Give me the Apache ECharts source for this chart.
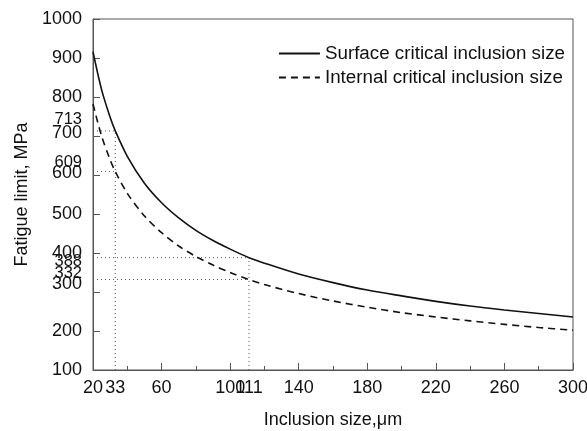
<!DOCTYPE html>
<html>
<head>
<meta charset="utf-8">
<script src="https://cdn.jsdelivr.net/npm/echarts@6/dist/echarts.min.js"></script>
<style>
  html, body { margin: 0; padding: 0; background: #fff; }
  #chart { width: 587px; height: 431px; }
</style>
</head>
<body>
<div id="chart"></div>
<script>
// Inclusion size (μm)
var sizes = [20, 25, 30, 33, 40, 50, 60, 70, 80, 90, 100, 111, 120, 140, 160, 180, 200, 220, 240, 260, 280, 300];
// Fatigue limit (MPa), surface critical inclusion size
var surface = [916, 819, 748, 713, 648, 579, 529, 490, 458, 432, 410, 388, 374, 346, 324, 305, 290, 276, 264, 254, 245, 236];
// Fatigue limit (MPa), internal critical inclusion size
var internal = [782, 700, 639, 609, 553, 495, 452, 418, 391, 369, 350, 332, 319, 296, 277, 261, 247, 236, 226, 217, 209, 202];

// Marked reference values
var markSizes = [33, 111];
var markSurface = [713, 388];
var markInternal = [609, 332];

// Tick labels
var xLabels = [20, 33, 60, 100, 111, 140, 180, 220, 260, 300];
var xMajorTicks = [20, 60, 100, 140, 180, 220, 260, 300];
var xMinorTicks = [40, 80, 120, 160, 200, 240, 280];
var yTicks = [100, 200, 300, 400, 500, 600, 700, 800, 900, 1000];
var yLabels = [100, 200, 300, 332, 388, 400, 500, 600, 609, 700, 713, 800, 900, 1000];

var xMin = 20, xMax = 300, yMin = 100, yMax = 1000;

function pairs(xs, ys) { return xs.map(function (x, i) { return [x, ys[i]]; }); }

var font = 'Liberation Sans, Arial, sans-serif';
var ink = '#111';
var frame = '#555';

// label nudges (pixels up) for the crowded y labels, as in the original
var nudge = { 300: 8, 332: 6, 388: -4, 400: 0, 600: 2, 609: 9, 700: 3, 713: 11 };
var small = { 332: 1, 388: 1, 609: 1, 713: 1 };
var rich = {};
yLabels.forEach(function (v) {
  var d = nudge[v] || 0;
  rich['v' + v] = {
    fontFamily: font, fontSize: small[v] ? 16.5 : 18, color: ink,
    padding: d >= 0 ? [0, 0, 2 * d, 0] : [-2 * d, 0, 0, 0]
  };
});

var series = [
  {
    name: 'Surface critical inclusion size', type: 'line', symbol: 'none', z: 5,
    smooth: 0.3,
    data: pairs(sizes, surface),
    lineStyle: { color: ink, width: 1.6, type: 'solid' },
    itemStyle: { color: ink }
  },
  {
    name: 'Internal critical inclusion size', type: 'line', symbol: 'none', z: 5,
    smooth: 0.3,
    data: pairs(sizes, internal),
    lineStyle: { color: ink, width: 1.6, type: [7, 5] },
    itemStyle: { color: ink }
  }
];

var dotted = { color: '#555', width: 1, type: [1, 3] };
markSizes.forEach(function (s, i) {
  series.push({ type: 'line', symbol: 'none', silent: true, z: 2, lineStyle: dotted,
    data: [[xMin, markSurface[i]], [s, markSurface[i]]] });
  series.push({ type: 'line', symbol: 'none', silent: true, z: 2, lineStyle: dotted,
    data: [[xMin, markInternal[i]], [s, markInternal[i]]] });
  series.push({ type: 'line', symbol: 'none', silent: true, z: 2, lineStyle: dotted,
    data: [[s, yMin], [s, markSurface[i]]] });
});

var chart = echarts.init(document.getElementById('chart'), null, { renderer: 'canvas' });
chart.setOption({
  animation: false,
  backgroundColor: '#fff',
  grid: { left: 93, right: 14, top: 19, bottom: 61, show: true, borderColor: frame, borderWidth: 1,
    containLabel: false, outerBoundsMode: 'none' },
  legend: {
    data: ['Surface critical inclusion size', 'Internal critical inclusion size'],
    orient: 'vertical', right: 17, top: 39, itemGap: 5,
    itemWidth: 41, itemHeight: 14,
    itemStyle: { opacity: 0 },
    textStyle: { fontFamily: font, fontSize: 18.8, color: ink }
  },
  xAxis: [
    {
      type: 'value', min: xMin, max: xMax,
      name: 'Inclusion size,μm', nameLocation: 'middle', nameGap: 41,
      nameTextStyle: { fontFamily: font, fontSize: 18, color: ink },
      axisLine: { show: true, lineStyle: { color: frame, width: 1 } },
      axisTick: { show: true, inside: true, length: 7, customValues: xMajorTicks, lineStyle: { color: frame } },
      axisLabel: { customValues: xLabels, margin: 9, fontFamily: font, fontSize: 18, color: ink,
        formatter: function (v) { return String(v); } },
      splitLine: { show: false }
    },
    {
      type: 'value', min: xMin, max: xMax, position: 'bottom',
      axisLine: { show: false },
      axisTick: { show: true, inside: true, length: 4, customValues: xMinorTicks, lineStyle: { color: frame } },
      axisLabel: { show: false },
      splitLine: { show: false }
    }
  ],
  yAxis: {
    type: 'value', min: yMin, max: yMax,
    name: 'Fatigue limit, MPa', nameLocation: 'middle', nameGap: 62, nameRotate: 90,
    nameTextStyle: { fontFamily: font, fontSize: 18, color: ink },
    axisLine: { show: true, lineStyle: { color: frame, width: 1 } },
    axisTick: { show: true, inside: true, length: 7, customValues: yTicks, lineStyle: { color: frame } },
    axisLabel: { customValues: yLabels, margin: 11, rich: rich,
      formatter: function (v) { return '{v' + v + '|' + v + '}'; } },
    splitLine: { show: false }
  },
  series: series
});
</script>
</body>
</html>
